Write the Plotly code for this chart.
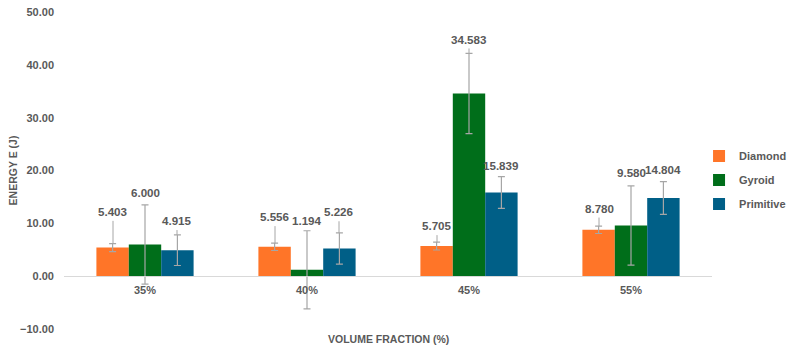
import plotly.graph_objects as go

categories = ["35%", "40%", "45%", "55%"]
series_names = ["Diamond", "Gyroid", "Primitive"]
diamond = [5.403, 5.556, 5.705, 8.780]
gyroid = [6.000, 1.194, 34.583, 9.580]
primitive = [4.915, 5.226, 15.839, 14.804]
diamond_err = [0.75, 0.70, 0.75, 0.70]
gyroid_err = [7.5, 7.4, 7.6, 7.5]
primitive_err = [2.9, 2.95, 3.0, 3.1]
y_ticks = [-10, 0, 10, 20, 30, 40, 50]

# style settings (label lift above error bar top, in data units)
label_lift = {
    "Diamond": [6.1, 5.0, 3.1, 3.4],
    "Gyroid": [2.4, 1.9, 2.7, 2.5],
    "Primitive": [2.7, 4.0, 2.05, 2.3],
}
colors = {"Diamond": "#FF7528", "Gyroid": "#006E1A", "Primitive": "#005F87"}
xshift_px = {"Diamond": -32, "Gyroid": 0, "Primitive": 32}
txt = "#595959"
font_family = "Liberation Sans"

values = {"Diamond": diamond, "Gyroid": gyroid, "Primitive": primitive}
errors = {"Diamond": diamond_err, "Gyroid": gyroid_err, "Primitive": primitive_err}

fig = go.Figure()
for name in series_names:
    fig.add_trace(go.Bar(
        name="<b>%s</b>" % name, x=categories, y=values[name],
        legendgroup=name,
        marker=dict(color=colors[name], line=dict(width=0)),
        error_y=dict(type="data", array=errors[name], color="#A6A6A6",
                     thickness=1.2, width=3.5, visible=True),
    ))

annotations = []
ymin, ymax = -10, 50
for name in series_names:
    for i, c in enumerate(categories):
        top = values[name][i] + errors[name][i]
        lift = label_lift[name][i]
        ly = top + lift
        annotations.append(dict(
            x=c, y=ly, xref="x", yref="y", xshift=xshift_px[name],
            text="<b>%.3f</b>" % values[name][i], showarrow=False,
            font=dict(size=11.6, color=txt, family=font_family),
            yanchor="middle",
        ))
        if lift > 2.6:
            # leader line from label down to error bar top
            annotations.append(dict(
                x=c, y=top, xref="x", yref="y", xshift=xshift_px[name],
                ax=0, ay=-(lift - 1.5) * 5.28, axref="pixel", ayref="pixel",
                showarrow=True, arrowhead=0, arrowwidth=1, arrowcolor="#A6A6A6",
                text="",
            ))

# x axis title at bottom
annotations.append(dict(
    x=0.5, y=-0.032, xref="paper", yref="paper", yanchor="middle",
    text="<b>VOLUME FRACTION (%)</b>", showarrow=False,
    font=dict(size=10.5, color=txt, family=font_family),
))

fig.update_layout(
    width=792, height=351,
    margin=dict(l=64, r=80, t=12, b=22, autoexpand=False),
    paper_bgcolor="white", plot_bgcolor="white",
    barmode="group", bargap=0.4, bargroupgap=0,
    font=dict(family=font_family, color=txt),
    showlegend=True,
    legend=dict(x=0.98, y=0.47, xanchor="left", yanchor="middle",
                font=dict(size=11, color=txt, family=font_family),
                itemwidth=30, tracegroupgap=5, traceorder="grouped",
                bgcolor="rgba(0,0,0,0)"),
    annotations=annotations,
    xaxis=dict(
        anchor="free", position=(0 - ymin) / (ymax - ymin),
        showline=True, linecolor="#D9D9D9", linewidth=1.2,
        ticks="", showgrid=False, zeroline=False,
        tickfont=dict(size=11, color=txt, family=font_family),
        ticklabelstandoff=4,
    ),
    yaxis=dict(
        range=[ymin, ymax], tickvals=y_ticks,
        ticktext=["<b>%s</b>" % ("%.2f" % v).replace("-", "\u2212") for v in y_ticks],
        showgrid=False, zeroline=False, showline=False, ticks="",
        tickfont=dict(size=11, color=txt, family=font_family),
        ticklabelstandoff=9,
        title=dict(text="<b>ENERGY E (J)</b>", standoff=0,
                   font=dict(size=10.5, color=txt, family=font_family)),
    ),
)
fig.update_xaxes(ticktext=["<b>%s</b>" % c for c in categories], tickvals=categories)

fig.write_html("out.html")
